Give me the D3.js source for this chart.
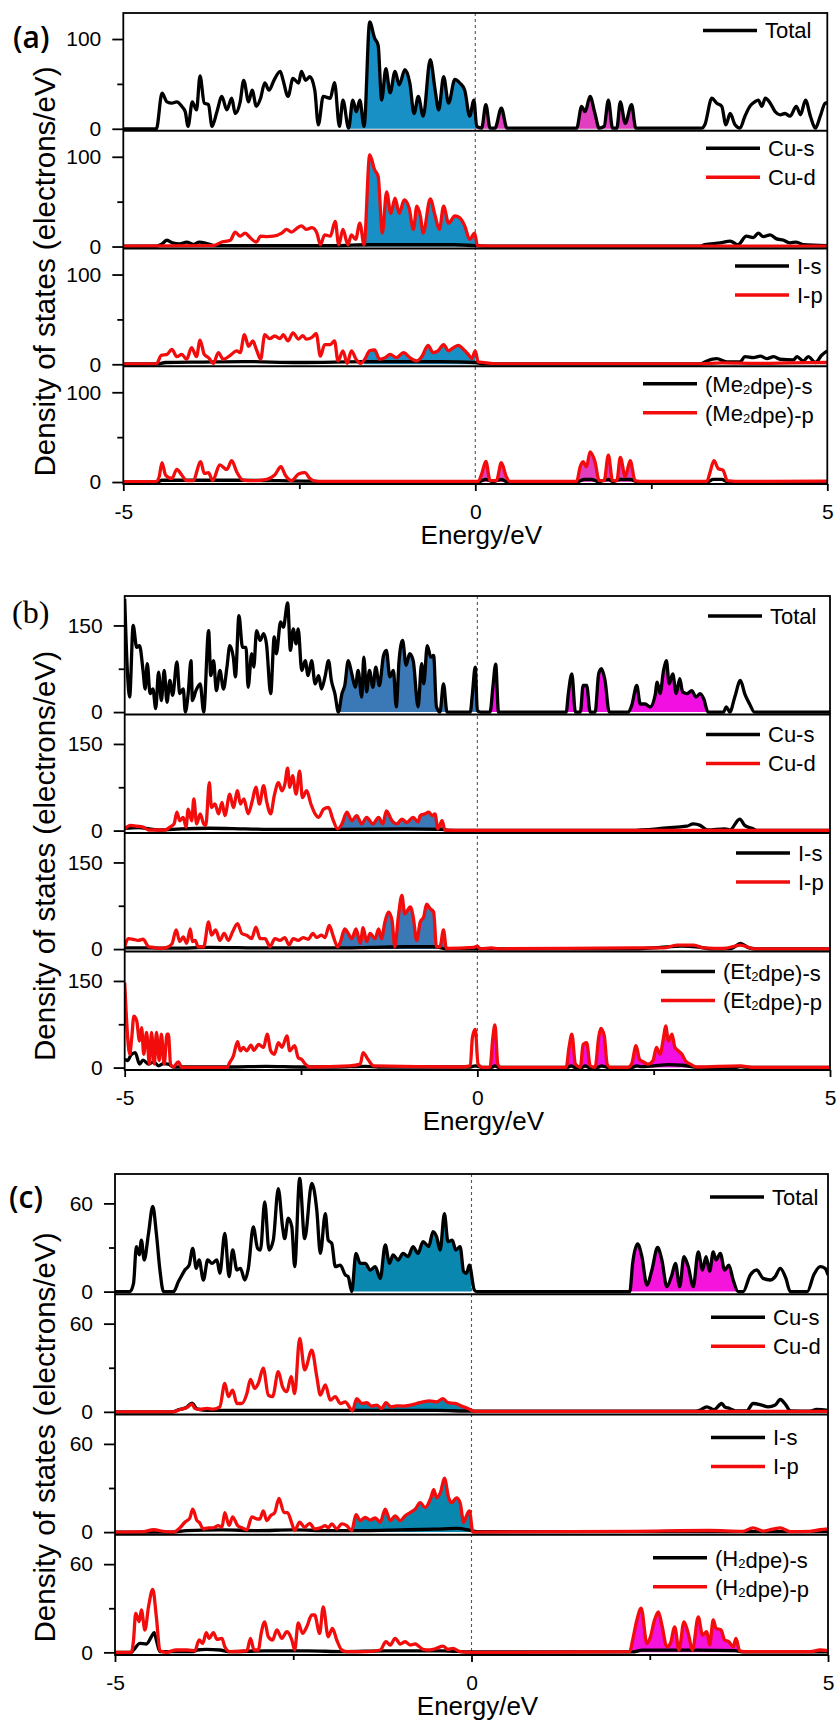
<!DOCTYPE html>
<html lang="en">
<head>
<meta charset="UTF-8">
<title>Density of states</title>
<style>
  body { margin: 0; background: #fff; }
  svg text { font-family: "Liberation Sans", Arial, sans-serif; }
</style>
</head>
<body>
<script src="https://d3js.org/d3.v7.min.js"></script>
<div id="chart"></div>
<script>
// data: [energy (eV), DOS (electrons/eV)]

// ---- (a) ----
const aTotal = [[-5,0],[-4.53,0],[-4.45,39.6],[-4.38,30],[-4.31,28.5],[-4.24,30],[-4.17,25],[-4.12,19],[-4.08,2.6],[-4.02,30],[-3.96,21],[-3.91,59],[-3.85,28.5],[-3.79,27],[-3.74,2.6],[-3.67,19],[-3.60,36],[-3.53,21],[-3.46,34],[-3.41,17],[-3.34,30],[-3.29,54],[-3.22,30],[-3.17,43],[-3.11,25],[-3.05,34],[-2.99,51],[-2.93,43],[-2.86,54],[-2.77,64],[-2.73,54],[-2.66,36],[-2.59,56],[-2.51,51],[-2.47,64],[-2.41,54],[-2.35,58],[-2.28,43],[-2.23,4.4],[-2.16,36],[-2.06,34],[-2.0,51.5],[-1.93,2.6],[-1.88,32],[-1.80,0.7],[-1.74,32],[-1.69,19],[-1.64,32],[-1.58,2.6],[-1.50,119],[-1.43,101],[-1.38,93],[-1.33,32],[-1.27,67],[-1.21,40],[-1.14,64],[-1.08,49],[-1.0,66],[-0.93,51],[-0.87,17],[-0.81,36],[-0.74,14],[-0.64,77],[-0.57,43],[-0.52,21],[-0.45,58],[-0.38,28.5],[-0.29,55],[-0.22,51],[-0.15,43],[-0.08,14],[-0.02,32],[0.02,2.6],[0.09,0.7],[0.15,27],[0.21,0.7],[0.28,0.7],[0.37,23],[0.45,0.7],[1.44,0.7],[1.51,25],[1.56,19],[1.63,36],[1.70,17],[1.76,0.7],[1.83,2.6],[1.89,32],[1.95,0.7],[2.01,0.7],[2.06,30],[2.13,6],[2.22,27],[2.28,0.7],[3.22,0.7],[3.26,4.4],[3.36,34],[3.43,28.5],[3.50,25],[3.56,4.4],[3.62,17],[3.69,4.4],[3.76,0.7],[3.83,14],[3.90,25],[3.97,30],[4.02,32],[4.07,25],[4.12,34],[4.19,28.5],[4.26,19],[4.33,15.6],[4.40,17],[4.47,14],[4.56,25],[4.62,15.6],[4.69,32],[4.76,14],[4.83,0.7],[4.90,14],[4.97,28.5],[5,29]];
const aCuS = [[-5,0.5],[-4.53,0.5],[-4.45,3],[-4.38,7],[-4.3,4],[-4.2,3],[-4.1,5],[-4.0,2.5],[-3.92,5],[-3.8,3],[-3.7,1],[-2.0,1],[-1.5,2],[-1.0,2],[-0.3,2],[0,1],[0.2,0.5],[3.2,0.5],[3.26,2],[3.48,4],[3.62,6],[3.73,2],[3.85,11.5],[3.95,10],[4.02,15],[4.09,11],[4.19,13],[4.28,8.5],[4.38,7],[4.47,4],[4.56,5],[4.66,2],[5,1]];
const aCuD = [[-5,0.5],[-3.72,1],[-3.60,5],[-3.48,7],[-3.41,16],[-3.34,11.5],[-3.27,15],[-3.20,10],[-3.11,5],[-3.05,11.5],[-2.96,11],[-2.87,11.5],[-2.75,15],[-2.68,19],[-2.61,16],[-2.54,20],[-2.47,23],[-2.40,19],[-2.32,21],[-2.25,15],[-2.20,2],[-2.14,13],[-2.06,11.5],[-1.99,28],[-1.94,2],[-1.88,19],[-1.81,2],[-1.76,13],[-1.70,8],[-1.64,26],[-1.58,2],[-1.50,102],[-1.43,85.5],[-1.38,78],[-1.32,15],[-1.26,61],[-1.20,37],[-1.14,54],[-1.08,37],[-1.01,52],[-0.94,43],[-0.88,19],[-0.83,45],[-0.78,34],[-0.74,15],[-0.64,53],[-0.57,34],[-0.51,19],[-0.45,45],[-0.38,26],[-0.29,34],[-0.22,32],[-0.15,23],[-0.08,8],[-0.01,15],[0.03,1],[0.2,0.5],[5,0.5]];
const aIS = [[-5,0.3],[-4.5,0.5],[-4.4,2],[-3.9,2.5],[-3.3,3],[-2.5,2],[-1.5,3],[-0.5,3],[0,2],[0.1,0.5],[3.2,0.5],[3.29,3.7],[3.43,6.3],[3.57,2.6],[3.76,2.6],[3.83,8.5],[3.95,7.4],[4.05,9],[4.14,6.3],[4.24,8.5],[4.33,5.6],[4.52,4.8],[4.57,8.5],[4.66,3.7],[4.73,8.5],[4.83,2],[4.92,10],[5,15]];
const aIP = [[-5,0.3],[-4.53,0.5],[-4.46,10],[-4.38,11],[-4.31,16.7],[-4.24,8.5],[-4.17,11],[-4.10,5.6],[-4.03,18.5],[-3.96,8.5],[-3.91,27],[-3.85,11],[-3.79,7.4],[-3.72,1],[-3.65,13],[-3.58,5.6],[-3.48,10],[-3.39,15],[-3.34,13],[-3.28,33],[-3.22,20],[-3.16,26],[-3.11,16.7],[-3.05,5.6],[-2.99,33],[-2.92,28.5],[-2.85,31.5],[-2.77,28.5],[-2.73,33],[-2.66,26],[-2.59,35],[-2.51,28],[-2.45,32],[-2.40,28],[-2.32,30],[-2.26,34],[-2.20,9],[-2.14,22],[-2.06,22],[-2.0,26],[-1.95,3.7],[-1.88,15],[-1.82,1],[-1.76,15],[-1.69,5],[-1.63,1],[-1.57,5.6],[-1.50,15],[-1.43,16],[-1.36,5.6],[-1.28,7.4],[-1.21,11],[-1.12,7.4],[-1.02,13],[-0.93,7.4],[-0.83,3.7],[-0.76,8.5],[-0.67,21],[-0.60,13],[-0.53,15],[-0.45,22],[-0.38,15],[-0.31,18.5],[-0.24,21],[-0.17,16.7],[-0.10,11],[-0.05,6.3],[0,15],[0.04,2.6],[0.13,1.9],[0.3,0.5],[3.2,0.5],[3.5,1.5],[4.0,1],[4.5,1.5],[5,2]];
const aLS = [[-5,0.3],[-4.5,0.5],[-4.45,2],[-3.9,2],[-3.4,2],[-2.8,1.5],[-2.3,1],[-2.2,0.3],[0.05,0.3],[0.15,3],[0.25,0.5],[0.37,3],[0.45,0.3],[1.45,0.3],[1.55,3],[1.65,3],[1.75,0.5],[1.89,3],[1.95,0.5],[2.06,3],[2.2,3],[2.3,0.3],[3.3,0.3],[3.38,3],[3.5,3],[3.58,0.3],[5,0.3]];
const aLP = [[-5,0.3],[-4.53,0.5],[-4.49,6],[-4.45,21.5],[-4.40,7.8],[-4.31,4],[-4.24,14],[-4.17,7.8],[-4.10,1.5],[-4.01,1.5],[-3.90,22.6],[-3.85,9.6],[-3.79,10.4],[-3.73,1.5],[-3.63,19],[-3.53,14],[-3.46,23.7],[-3.39,11.5],[-3.30,2.2],[-3.16,1.5],[-2.96,3],[-2.85,7.8],[-2.76,17],[-2.70,7.8],[-2.61,1.5],[-2.51,8.9],[-2.42,10.4],[-2.35,4],[-2.25,0.7],[0.04,0.7],[0.09,8.9],[0.15,23],[0.21,1.5],[0.30,1.5],[0.37,21.5],[0.44,6],[0.49,0.7],[1.44,0.7],[1.49,17],[1.53,22.6],[1.58,17],[1.63,33.7],[1.70,22.6],[1.76,1.5],[1.83,1.5],[1.89,30],[1.95,1.5],[2.01,1.5],[2.06,27.4],[2.13,6],[2.20,23.7],[2.27,1.5],[2.34,0.7],[3.29,0.7],[3.33,9.6],[3.39,23.7],[3.45,15],[3.52,13],[3.58,1.5],[3.7,0.7],[5,1]];

// ---- (b) ----
const bTotal = [[-5,196],[-4.96,66],[-4.93,26],[-4.88,150],[-4.83,112],[-4.79,115],[-4.74,72],[-4.71,40],[-4.68,84],[-4.64,32],[-4.60,40],[-4.56,6],[-4.52,69],[-4.48,20],[-4.44,72],[-4.40,17],[-4.36,55],[-4.32,29],[-4.26,87],[-4.22,32],[-4.17,40],[-4.14,0],[-4.10,32],[-4.06,89],[-4.04,20],[-3.99,37],[-3.93,49],[-3.88,0],[-3.81,141],[-3.78,63],[-3.74,89],[-3.70,37],[-3.65,72],[-3.60,40],[-3.55,78],[-3.51,115],[-3.46,95],[-3.43,61],[-3.38,167],[-3.33,112],[-3.28,112],[-3.25,43],[-3.20,101],[-3.17,78],[-3.13,141],[-3.08,124],[-3.03,136],[-2.99,118],[-2.93,32],[-2.88,130],[-2.85,101],[-2.79,156],[-2.75,147],[-2.69,189],[-2.65,107],[-2.61,144],[-2.57,118],[-2.54,144],[-2.49,72],[-2.44,89],[-2.40,63],[-2.35,89],[-2.30,49],[-2.25,63],[-2.21,40],[-2.16,61],[-2.11,89],[-2.07,55],[-2.02,32],[-1.97,0],[-1.92,32],[-1.88,46],[-1.83,89],[-1.78,66],[-1.73,43],[-1.69,72],[-1.64,26],[-1.61,95],[-1.57,35],[-1.53,72],[-1.48,43],[-1.44,78],[-1.39,46],[-1.33,98],[-1.29,107],[-1.24,61],[-1.19,72],[-1.15,9],[-1.11,89],[-1.06,124],[-1.01,81],[-0.96,101],[-0.91,89],[-0.84,9],[-0.79,84],[-0.76,49],[-0.71,115],[-0.66,95],[-0.62,98],[-0.58,9],[-0.53,0],[-0.48,49],[-0.43,0],[-0.1,0],[-0.07,32],[-0.03,78],[0.0,3],[0.05,0],[0.18,0],[0.22,43],[0.26,83],[0.30,0],[1.26,0],[1.29,32],[1.34,66],[1.39,0],[1.46,0],[1.50,46],[1.55,46],[1.60,0],[1.67,0],[1.72,66],[1.76,75],[1.81,55],[1.87,0],[2.14,0],[2.19,12],[2.26,46],[2.31,14],[2.38,14],[2.45,9],[2.52,29],[2.55,52],[2.59,32],[2.64,72],[2.68,89],[2.72,49],[2.77,66],[2.82,32],[2.87,58],[2.91,35],[2.97,32],[3.04,37],[3.10,26],[3.16,32],[3.21,23],[3.27,0],[3.49,0],[3.53,9],[3.58,0],[3.65,26],[3.73,55],[3.79,32],[3.86,14],[3.93,0],[5,0]];
const bCuS = [[-5,4],[-4.8,5],[-4.65,3],[-4.5,1],[-4.2,3],[-3.8,4],[-3.3,3],[-2.8,2],[-2.0,2],[-1.0,3],[-0.5,2],[-0.4,0.5],[2.17,0.5],[2.64,4],[2.83,6],[2.97,7.5],[3.06,11.5],[3.16,9],[3.26,1],[3.51,3],[3.58,1],[3.72,20],[3.79,9],[3.91,3],[3.96,0.5],[5,0.5]];
const bCuD = [[-5,3],[-4.92,9],[-4.83,7.5],[-4.74,6],[-4.66,1],[-4.43,1],[-4.36,6],[-4.30,11.5],[-4.26,32],[-4.22,17],[-4.17,23],[-4.13,6],[-4.10,37],[-4.05,17],[-4.02,55],[-3.98,11.5],[-3.93,29],[-3.88,11.5],[-3.85,9],[-3.80,83],[-3.77,40],[-3.72,46],[-3.67,29],[-3.62,49],[-3.58,26],[-3.51,63],[-3.46,40],[-3.40,69],[-3.36,46],[-3.31,55],[-3.25,29],[-3.19,52],[-3.14,75],[-3.09,46],[-3.03,78],[-2.99,52],[-2.93,29],[-2.88,60],[-2.82,83],[-2.77,69],[-2.73,80],[-2.69,108],[-2.66,75],[-2.62,95],[-2.57,63],[-2.52,103],[-2.48,57],[-2.42,69],[-2.36,46],[-2.30,29],[-2.25,23],[-2.18,37],[-2.11,40],[-2.05,20],[-1.98,3],[-1.92,11.5],[-1.85,32],[-1.78,17],[-1.71,26],[-1.64,11.5],[-1.57,23],[-1.48,11.5],[-1.40,23],[-1.34,11.5],[-1.29,34],[-1.21,17],[-1.14,11.5],[-1.07,20],[-1.0,14],[-0.91,23],[-0.84,15],[-0.81,26],[-0.74,29],[-0.69,32],[-0.64,26],[-0.60,29],[-0.56,3],[-0.50,17],[-0.46,1],[-0.3,0.5],[5,0.5]];
const bIS = [[-5,2],[-4.7,2],[-4.3,1.5],[-3.8,3],[-3,2],[-2,2],[-1.5,3],[-1,4],[-0.6,4],[-0.45,0.5],[2.3,0.5],[2.6,3],[2.9,5],[3.1,4],[3.3,0.5],[3.6,1],[3.73,10],[3.85,2],[3.95,0.5],[5,0.5]];
const bIP = [[-5,4],[-4.95,18],[-4.88,17],[-4.81,15],[-4.74,17],[-4.66,4],[-4.59,3],[-4.50,1],[-4.40,3],[-4.33,9],[-4.27,33],[-4.22,13],[-4.17,21],[-4.12,10],[-4.07,35],[-4.04,13],[-4.0,15],[-3.96,4],[-3.88,4],[-3.81,47],[-3.77,24],[-3.71,33],[-3.65,15],[-3.59,27],[-3.53,15],[-3.47,30],[-3.40,44],[-3.34,27],[-3.27,24],[-3.20,18],[-3.14,38],[-3.08,18],[-3.01,18],[-2.94,4],[-2.87,18],[-2.80,15],[-2.73,20],[-2.67,7],[-2.61,18],[-2.54,15],[-2.47,20],[-2.40,17],[-2.33,27],[-2.28,20],[-2.21,24],[-2.16,20],[-2.10,41],[-2.04,21],[-1.98,4],[-1.94,13],[-1.88,35],[-1.83,27],[-1.78,18],[-1.72,35],[-1.66,10],[-1.62,37],[-1.57,13],[-1.52,27],[-1.45,18],[-1.40,35],[-1.36,18],[-1.31,47],[-1.26,64],[-1.21,50],[-1.17,4],[-1.12,56],[-1.07,93],[-1.03,61],[-0.95,73],[-0.91,56],[-0.86,15],[-0.81,47],[-0.76,56],[-0.72,78],[-0.67,70],[-0.62,64],[-0.58,4],[-0.53,4],[-0.48,33],[-0.44,1],[-0.05,3],[0,5],[0.04,0.5],[0.2,2],[0.3,0.5],[2.26,2],[2.64,2],[2.83,7],[3.07,7],[3.21,2],[3.5,1],[3.73,7],[3.93,0.5],[5,0.5]];
const bLS = [[-5,15],[-4.96,12],[-4.91,22],[-4.85,26],[-4.79,6],[-4.74,13],[-4.66,6],[-4.59,10],[-4.52,3],[-4.45,7],[-4.38,6],[-4.31,1],[-3.5,1],[-3,2],[-2.5,1],[-2,1],[-1.6,2],[-1.4,1],[-0.1,1],[-0.03,3],[0.05,0.5],[0.2,0.5],[0.25,3],[0.3,0.5],[1.28,0.5],[1.33,3],[1.38,0.5],[1.49,0.5],[1.53,3],[1.58,0.5],[1.71,0.5],[1.76,3],[1.84,0.5],[2.2,0.5],[2.26,3],[2.32,1.5],[2.5,3],[2.7,5],[2.9,4],[3.1,0.5],[3.65,0.5],[3.73,1.5],[3.85,0.5],[5,0.5]];
const bLP = [[-5,147],[-4.97,75],[-4.93,23],[-4.90,52],[-4.87,89],[-4.83,81],[-4.79,46],[-4.76,69],[-4.73,23],[-4.69,61],[-4.65,6],[-4.62,61],[-4.58,6],[-4.55,61],[-4.51,12],[-4.48,58],[-4.44,6],[-4.40,58],[-4.38,58],[-4.35,6],[-4.31,1],[-4.24,10],[-4.19,0.5],[-3.55,0.5],[-3.51,9],[-3.46,20],[-3.40,45],[-3.36,29],[-3.32,35],[-3.27,29],[-3.21,39],[-3.17,30],[-3.10,40],[-3.03,35],[-2.98,58],[-2.93,29],[-2.88,23],[-2.82,43],[-2.77,35],[-2.70,55],[-2.66,29],[-2.59,38],[-2.54,17],[-2.49,14],[-2.44,6],[-2.37,1],[-1.81,3],[-1.66,6],[-1.62,26],[-1.55,14],[-1.47,3],[-0.24,1],[-0.10,3],[-0.07,52],[-0.03,66],[0.01,6],[0.07,0.5],[0.18,0.5],[0.22,52],[0.25,74],[0.29,6],[0.33,0.5],[1.26,0.5],[1.30,35],[1.34,58],[1.39,6],[1.46,0.5],[1.50,40],[1.55,43],[1.60,3],[1.67,0.5],[1.72,52],[1.75,68],[1.80,55],[1.84,6],[1.88,0.5],[2.14,0.5],[2.19,7],[2.25,38],[2.30,14],[2.35,10],[2.42,6],[2.49,12],[2.54,35],[2.59,23],[2.64,52],[2.67,72],[2.71,46],[2.76,58],[2.80,35],[2.85,29],[2.90,23],[2.95,12],[3.02,6],[3.11,1],[3.73,3],[3.9,0.5],[5,0.5]];

// ---- (c) ----
const cTotal = [[-5,0],[-4.79,0],[-4.74,5.7],[-4.70,30.6],[-4.66,25],[-4.63,35],[-4.59,21.5],[-4.53,39.6],[-4.47,58],[-4.42,39.6],[-4.37,14.7],[-4.32,0],[-4.18,0],[-4.11,6.8],[-4.06,11.3],[-4.02,14.7],[-3.96,18],[-3.91,29.4],[-3.86,15.8],[-3.82,21.5],[-3.76,7.9],[-3.70,21.5],[-3.64,19.2],[-3.57,21.5],[-3.53,12.5],[-3.46,39.6],[-3.40,10.2],[-3.35,28.3],[-3.29,14.7],[-3.24,15.8],[-3.18,7.9],[-3.13,15.8],[-3.06,44],[-3.00,29.4],[-2.96,28.3],[-2.90,61],[-2.84,28.3],[-2.78,35],[-2.71,70],[-2.65,44],[-2.62,36],[-2.57,50],[-2.52,44],[-2.48,17],[-2.41,77],[-2.34,36],[-2.24,73.6],[-2.17,55.5],[-2.12,26],[-2.05,53],[-2.01,35],[-1.96,32.8],[-1.91,17],[-1.84,18],[-1.77,11.3],[-1.73,10.2],[-1.68,0],[-1.62,26],[-1.56,19.2],[-1.49,19.2],[-1.42,14.7],[-1.35,17],[-1.28,9],[-1.21,31.7],[-1.15,19.2],[-1.10,25],[-1.03,21.5],[-0.96,26],[-0.89,23.8],[-0.82,30.6],[-0.75,26],[-0.68,34],[-0.60,30.6],[-0.54,40.8],[-0.49,37.4],[-0.44,28.3],[-0.38,53],[-0.33,34],[-0.27,35],[-0.22,28.3],[-0.16,30.6],[-0.11,13.6],[-0.07,12.5],[-0.03,18],[0.04,1],[0.07,0],[2.22,0],[2.26,19.2],[2.33,32.4],[2.39,23.8],[2.46,4.5],[2.53,14.7],[2.61,30],[2.67,21.5],[2.74,3.4],[2.81,11.3],[2.86,19.2],[2.92,3.4],[2.98,23.8],[3.04,17],[3.11,3.4],[3.18,27],[3.24,14.7],[3.29,23.8],[3.34,13.6],[3.39,27],[3.43,21.5],[3.49,26],[3.55,14.7],[3.61,18],[3.67,7.9],[3.74,0],[3.81,0],[3.91,11.3],[4.0,14.7],[4.09,9],[4.19,7.9],[4.26,10.2],[4.33,15.8],[4.41,9],[4.47,0],[4.71,0],[4.80,11.3],[4.89,17],[4.96,15.8],[5,11.3]];
const cCuS = [[-5,0],[-4.2,0],[-4.1,1.5],[-4.0,3],[-3.92,6],[-3.85,2],[-3.7,1],[-3,1],[-2,1],[-1.5,1],[-0.5,1],[0,0.5],[3.15,0.5],[3.20,1],[3.30,3.4],[3.40,1.5],[3.51,5.7],[3.55,3.4],[3.62,2.3],[3.70,0.7],[3.86,0.7],[3.95,5.7],[4.07,4.6],[4.16,3.4],[4.26,4.6],[4.33,8.4],[4.41,4.6],[4.47,0.7],[4.75,0.5],[4.84,1.6],[5,1]];
const cCuD = [[-5,0],[-4.18,0],[-4.09,1.6],[-3.99,3],[-3.92,5.2],[-3.88,2.3],[-3.81,1.6],[-3.71,2.3],[-3.62,1.8],[-3.53,3.4],[-3.46,19.4],[-3.41,10.3],[-3.35,14.8],[-3.29,5.7],[-3.22,5.7],[-3.15,12.5],[-3.10,22],[-3.04,16],[-2.99,19.4],[-2.92,29.7],[-2.85,11.4],[-2.79,10.3],[-2.71,27.4],[-2.65,17],[-2.59,13.7],[-2.53,24],[-2.48,12.5],[-2.41,50],[-2.34,28.5],[-2.24,42],[-2.17,24],[-2.12,11.4],[-2.05,18.3],[-1.98,8],[-1.91,10.3],[-1.84,5.7],[-1.77,6.8],[-1.70,2.3],[-1.67,0.7],[-1.61,9],[-1.54,5.7],[-1.47,6.2],[-1.40,3.9],[-1.33,4.6],[-1.26,2.3],[-1.20,6.2],[-1.13,3.4],[-1.05,4.1],[-0.96,3.9],[-0.86,4.6],[-0.77,5.7],[-0.68,6.8],[-0.59,7.5],[-0.49,6.8],[-0.40,9],[-0.33,6.2],[-0.23,5.7],[-0.14,3.9],[-0.05,2.3],[0.02,0.7],[0.1,0.3],[5,0.3]];
const cIS = [[-5,0],[-4.2,0],[-4.0,1],[-3.5,1.5],[-3,1],[-2.5,1.5],[-2,1],[-1.5,1],[-1,1.5],[-0.5,2],[-0.2,2.5],[0,1],[0.1,0.3],[5,0.3]];
const cIP = [[-5,0],[-4.6,0.3],[-4.46,1.6],[-4.3,0.3],[-4.18,0],[-4.09,2.9],[-4.02,6.7],[-3.95,9.6],[-3.91,15.6],[-3.85,7.8],[-3.82,6.7],[-3.76,2.2],[-3.69,2.9],[-3.62,2.9],[-3.55,4.4],[-3.50,3.3],[-3.46,13.3],[-3.40,4.4],[-3.35,10.4],[-3.28,4.4],[-3.22,2.9],[-3.15,1.6],[-3.08,10.4],[-3.01,8.9],[-2.97,8.9],[-2.92,14.4],[-2.87,7.8],[-2.82,11.1],[-2.76,13.3],[-2.70,22.9],[-2.63,13.3],[-2.58,13.3],[-2.52,6],[-2.48,1.1],[-2.41,6.7],[-2.34,3.3],[-2.27,6],[-2.20,2.2],[-2.12,2.9],[-2.05,4.4],[-2.01,2.9],[-1.96,5.6],[-1.89,2.2],[-1.82,5.6],[-1.75,4.4],[-1.68,1.1],[-1.62,11.8],[-1.56,7.8],[-1.49,10],[-1.42,8.2],[-1.35,9.6],[-1.28,6.7],[-1.21,15.6],[-1.14,7.8],[-1.07,11.1],[-1.0,7.8],[-0.93,11.1],[-0.86,13.3],[-0.79,15.6],[-0.72,20],[-0.65,16.7],[-0.57,23.3],[-0.53,28.9],[-0.49,23.3],[-0.43,27.8],[-0.38,36.7],[-0.32,23.3],[-0.28,20],[-0.21,23.3],[-0.16,20],[-0.11,6.7],[-0.07,11.1],[-0.03,14.4],[0.02,0],[2.3,0.5],[3.34,1.1],[3.8,0.5],[3.95,2.9],[4.09,0.7],[4.33,2.9],[4.47,0.3],[4.75,0.5],[4.89,1.6],[5,2.2]];
const cLS = [[-5,0],[-4.77,0],[-4.74,1.6],[-4.65,6.1],[-4.56,5.7],[-4.49,10.6],[-4.45,13.4],[-4.42,8.4],[-4.37,0.5],[-3.9,0.5],[-3.85,1.6],[-3.72,2],[-3.53,1.6],[-3.39,0.5],[-2.9,1],[-2.3,1],[-1.8,0.5],[-1.2,1],[-0.4,1],[0,0.3],[2.25,0.3],[2.4,1.5],[3.0,1.5],[3.7,1.2],[3.8,0.3],[5,0.3]];
const cLP = [[-5,0],[-4.77,0],[-4.74,8.4],[-4.71,26.5],[-4.66,20.8],[-4.63,28.8],[-4.58,15.2],[-4.53,31],[-4.47,42.8],[-4.42,24.2],[-4.37,1.1],[-4.28,0],[-4.14,1.6],[-3.99,1.6],[-3.88,1.1],[-3.82,8.4],[-3.77,6.1],[-3.72,13.4],[-3.68,9.5],[-3.62,13.4],[-3.57,8.8],[-3.50,9.5],[-3.46,3.8],[-3.39,0.5],[-3.15,1.1],[-3.10,9.5],[-3.05,1.6],[-2.99,1.6],[-2.95,12.9],[-2.90,20.8],[-2.85,10.6],[-2.79,8.4],[-2.73,15.2],[-2.66,9.5],[-2.59,14],[-2.52,8.4],[-2.48,1.6],[-2.43,20],[-2.37,12.9],[-2.31,17.4],[-2.24,25.4],[-2.20,25.4],[-2.13,12.9],[-2.08,31],[-2.01,10.6],[-1.95,16.3],[-1.89,8.4],[-1.82,1.6],[-1.75,0.5],[-1.47,0.5],[-1.28,1.6],[-1.20,7.2],[-1.14,5],[-1.07,9.5],[-1.0,5.7],[-0.93,7.2],[-0.86,5],[-0.79,5.7],[-0.73,3.8],[-0.68,2],[-0.59,1.6],[-0.49,2.7],[-0.40,4.3],[-0.33,2],[-0.26,2.7],[-0.16,0.5],[0.02,0],[2.22,0.5],[2.26,8.4],[2.32,22],[2.38,30],[2.46,6.1],[2.51,10.6],[2.56,20.8],[2.62,27.6],[2.67,18.6],[2.74,3.8],[2.79,6.1],[2.85,17.4],[2.91,1.6],[2.98,20.8],[3.04,12.9],[3.10,1.6],[3.18,24.2],[3.24,11.8],[3.30,14],[3.34,5],[3.39,22],[3.43,16.3],[3.50,15.2],[3.55,8.4],[3.61,7.2],[3.67,3.8],[3.71,9.5],[3.76,1.1],[3.83,0.5],[4.75,0.5],[4.89,1.6],[5,1.1]];

// ticks and legend names
const xTicks = [-5, 0, 5];
const xMinor = [-2.5, 2.5];
const aYTicks = [0, 100], bYTicks = [0, 150], cYTicks = [0, 60];
const aNames = [["Total"], ["Cu-s", "Cu-d"], ["I-s", "I-p"], ["(Me2dpe)-s", "(Me2dpe)-p"]];
const bNames = [["Total"], ["Cu-s", "Cu-d"], ["I-s", "I-p"], ["(Et2dpe)-s", "(Et2dpe)-p"]];
const cNames = [["Total"], ["Cu-s", "Cu-d"], ["I-s", "I-p"], ["(H2dpe)-s", "(H2dpe)-p"]];

// shaded bands: [subplot, series, from eV, to eV, kind]  v = occupied, c = empty
const aFills = [[0,0,-1.80,0,"v"],[0,0,0,2.35,"c"],[1,1,-1.58,0,"v"],[2,1,-1.58,0,"v"],[3,1,0,2.35,"c"]];
const bFills = [[0,0,-1.97,0,"v"],[0,0,0,3.27,"c"],[1,1,-1.97,0,"v"],[2,1,-1.97,0,"v"],[3,1,0,3.27,"c"]];
const cFills = [[0,0,-1.68,0,"v"],[0,0,2.22,3.74,"c"],[1,1,-1.68,0,"v"],[2,1,-1.68,0,"v"],[3,1,2.22,3.74,"c"]];

const panels = [
  { label: "(a)", lab: { x: 13, y: 48, font: "'Open Sans', sans-serif", size: 30, weight: 600 },
    left: 123.3, right: 827.3, top: 13, bottom: 484, yDom: [-2.2, 129], yTicks: aYTicks,
    subs: [[aTotal], [aCuS, aCuD], [aIS, aIP], [aLS, aLP]], names: aNames,
    legX: [765, 768, 797, 705], legDy: 17.5, fills: aFills, blue: "#1890c6", pink: "#e23ec0" },
  { label: "(b)", lab: { x: 12, y: 623, font: "'Liberation Serif', serif", size: 32, weight: 400 },
    left: 124.7, right: 830, top: 596, bottom: 1070, yDom: [-4.2, 201], yTicks: bYTicks,
    subs: [[bTotal], [bCuS, bCuD], [bIS, bIP], [bLS, bLP]], names: bNames,
    legX: [770, 768, 798, 723], legDy: 20, fills: bFills, blue: "#3b78b6", pink: "#f20fe2" },
  { label: "(c)", lab: { x: 9, y: 1208, font: "'Open Sans', sans-serif", size: 30, weight: 600 },
    left: 115, right: 828, top: 1174, bottom: 1655, yDom: [-1.8, 80], yTicks: cYTicks,
    subs: [[cTotal], [cCuS, cCuD], [cIS, cIP], [cLS, cLP]], names: cNames,
    legX: [772, 773, 773, 715], legDy: 23, fills: cFills, blue: "#0a87ae", pink: "#f414dc" }
];

const W = 837, H = 1722;
const RED = "#f20c0c";

const svg = d3.select("#chart").append("svg")
  .attr("width", W).attr("height", H);
svg.append("rect").attr("width", W).attr("height", H).attr("fill", "#fff");
const defs = svg.append("defs");

panels.forEach((p, pi) => {
  const x = d3.scaleLinear().domain([-5, 5]).range([p.left, p.right]);
  const h = (p.bottom - p.top) / 4;
  const pg = svg.append("g");

  // Fermi level
  pg.append("line")
    .attr("x1", x(0)).attr("x2", x(0))
    .attr("y1", p.top).attr("y2", p.bottom)
    .attr("stroke", "#555").attr("stroke-width", 1.1)
    .attr("stroke-dasharray", "3,3");

  p.subs.forEach((series, si) => {
    const t = p.top + si * h, b = t + h;
    const y = d3.scaleLinear().domain(p.yDom).range([b, t]);

    const clipId = `clip-${pi}-${si}`;
    defs.append("clipPath").attr("id", clipId)
      .append("rect").attr("x", p.left).attr("y", t)
      .attr("width", p.right - p.left).attr("height", h);
    const plot = pg.append("g").attr("clip-path", `url(#${clipId})`);

    const line = d3.line().x(d => x(d[0])).y(d => y(d[1])).curve(d3.curveMonotoneX);
    const area = d3.area().x(d => x(d[0])).y0(y(0)).y1(d => y(d[1])).curve(d3.curveMonotoneX);

    // shaded bands
    p.fills.filter(f => f[0] === si).forEach((f, fi) => {
      const fid = `fill-${pi}-${si}-${fi}`;
      defs.append("clipPath").attr("id", fid)
        .append("rect").attr("x", x(f[2])).attr("y", t)
        .attr("width", x(f[3]) - x(f[2])).attr("height", h);
      plot.append("g").attr("clip-path", `url(#${fid})`)
        .append("path").datum(series[f[1]])
        .attr("d", area)
        .attr("fill", f[4] === "v" ? p.blue : p.pink);
    });

    // curves
    series.forEach((s, k) => {
      plot.append("path").datum(s)
        .attr("d", line)
        .attr("fill", "none")
        .attr("stroke", k === 0 ? "#000" : RED)
        .attr("stroke-width", 3.3)
        .attr("stroke-linejoin", "round");
    });

    // y axis
    const ya = pg.append("g").attr("transform", `translate(${p.left},0)`)
      .call(d3.axisLeft(y).tickValues(p.yTicks).tickSize(11).tickPadding(11).tickFormat(d => String(d)));
    ya.append("g")
      .call(d3.axisLeft(y).tickValues([p.yTicks[1] / 2]).tickSize(6).tickFormat(""));
    ya.selectAll(".domain").remove();
    ya.attr("font-size", 21).attr("font-family", "'Liberation Sans', Arial, sans-serif");
    ya.selectAll("line").attr("stroke", "#000").attr("stroke-width", 1.8);
    ya.selectAll("text").attr("fill", "#000");

    // separator
    pg.append("line")
      .attr("x1", p.left).attr("x2", p.right)
      .attr("y1", b).attr("y2", b)
      .attr("stroke", "#000").attr("stroke-width", 1.8);

    // legend
    p.names[si].forEach((name, k) => {
      const ly = t + p.legDy + k * 29;
      const lx = p.legX[si];
      pg.append("line")
        .attr("x1", lx - 62).attr("x2", lx - 8)
        .attr("y1", ly).attr("y2", ly)
        .attr("stroke", k === 0 ? "#000" : RED)
        .attr("stroke-width", 3.4);
      const txt = pg.append("text")
        .attr("x", lx).attr("y", ly).attr("dy", "0.36em")
        .attr("font-size", 22).attr("fill", "#000");
      name.split(/(\d)/).forEach(part => {
        if (!part) return;
        if (/\d/.test(part)) {
          txt.append("tspan").attr("font-size", 13).attr("dy", 2).text(part);
          txt.append("tspan").attr("dy", -2).text("");
        } else {
          txt.append("tspan").text(part);
        }
      });
    });
  });

  // outer frame
  pg.append("rect")
    .attr("x", p.left).attr("y", p.top)
    .attr("width", p.right - p.left).attr("height", p.bottom - p.top)
    .attr("fill", "none").attr("stroke", "#000").attr("stroke-width", 1.8);

  // x axis
  const xa = pg.append("g").attr("transform", `translate(0,${p.bottom})`)
    .call(d3.axisBottom(x).tickValues(xTicks).tickSize(7).tickPadding(13).tickFormat(d => String(d)));
  xa.append("g")
    .call(d3.axisBottom(x).tickValues(xMinor).tickSize(5).tickFormat(""));
  xa.selectAll(".domain").remove();
  xa.attr("font-size", 21).attr("font-family", "'Liberation Sans', Arial, sans-serif");
  xa.selectAll("line").attr("stroke", "#000").attr("stroke-width", 1.8);
  xa.selectAll("text").attr("fill", "#000");

  pg.append("text")
    .attr("x", (p.left + p.right) / 2 + 6).attr("y", p.bottom + 60)
    .attr("text-anchor", "middle").attr("font-size", 26)
    .text("Energy/eV");

  // the title sits a little below the middle of the stack
  pg.append("text")
    .attr("transform", `translate(55,${(p.top + p.bottom) / 2 + 23}) rotate(-90)`)
    .attr("text-anchor", "middle").attr("font-size", 29.5)
    .text("Density of states (electrons/eV)");

  pg.append("text")
    .attr("x", p.lab.x).attr("y", p.lab.y)
    .style("font-family", p.lab.font)
    .attr("font-size", p.lab.size).attr("font-weight", p.lab.weight)
    .text(p.label);
});
</script>
</body>
</html>
